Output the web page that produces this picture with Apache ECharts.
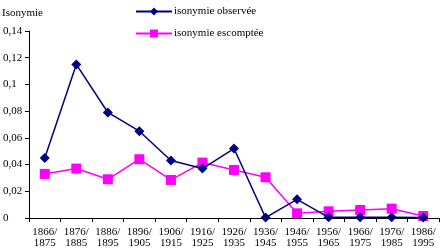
<!DOCTYPE html>
<html><head><meta charset="utf-8">
<script src="https://cdn.jsdelivr.net/npm/echarts@6/dist/echarts.min.js"></script>
<style>html,body{margin:0;padding:0;background:#fff}#c{width:440px;height:251px}</style>
</head><body><div id="c"></div>
<script>
const categories = ['1866/\n1875','1876/\n1885','1886/\n1895','1896/\n1905','1906/\n1915','1916/\n1925','1926/\n1935','1936/\n1945','1946/\n1955','1956/\n1965','1966/\n1975','1976/\n1985','1986/\n1995'];
const observed = [0.045,0.115,0.079,0.065,0.043,0.037,0.052,0.0003,0.014,0.0005,0.0005,0.0005,0.0003];
const expected = [0.033,0.037,0.029,0.044,0.0285,0.0415,0.036,0.0305,0.0035,0.005,0.006,0.007,0.0015];
const yTicks = [0,0.02,0.04,0.06,0.08,0.1,0.12,0.14];
const font = 'Liberation Serif';
const chart = echarts.init(document.getElementById('c'));
chart.setOption({
  animation:false,
  textStyle:{fontFamily:font},
  title:{text:'Isonymie',left:2,top:8,padding:0,textStyle:{fontFamily:font,fontSize:11,fontWeight:'normal',color:'#000'}},
  legend:{orient:'vertical',left:135,top:6,padding:0,itemWidth:36,itemHeight:10,itemGap:11,
    textStyle:{fontFamily:font,fontSize:11,color:'#000',padding:[0,0,0,-3]},
    data:['isonymie observée','isonymie escomptée']},
  grid:{left:25,right:1,top:31,bottom:33,containLabel:false},
  xAxis:{type:'category',data:categories,boundaryGap:true,
    axisLine:{lineStyle:{color:'#000',width:1}},
    axisTick:{show:true,alignWithLabel:false,length:4,lineStyle:{color:'#000'}},
    axisLabel:{fontFamily:font,fontSize:11,color:'#000',lineHeight:11,margin:9,interval:0}},
  yAxis:{type:'value',min:0,max:yTicks[yTicks.length-1],interval:0.02,
    axisLine:{show:true,lineStyle:{color:'#000',width:1}},
    axisTick:{show:true,length:4,lineStyle:{color:'#000'}},
    splitLine:{show:false},
    axisLabel:{fontFamily:font,fontSize:11,color:'#000',margin:26,align:'left',
      formatter:v=>String(Math.round(v*100)/100).replace('.',',')}},
  series:[
    {name:'isonymie observée',type:'line',data:observed,symbol:'diamond',symbolSize:10,
      itemStyle:{color:'#000080'},lineStyle:{color:'#000080',width:1.5},z:3},
    {name:'isonymie escomptée',type:'line',data:expected,symbol:'rect',symbolSize:10,
      itemStyle:{color:'#FF00FF'},lineStyle:{color:'#FF00FF',width:1.5},z:2}
  ]
});
</script></body></html>
